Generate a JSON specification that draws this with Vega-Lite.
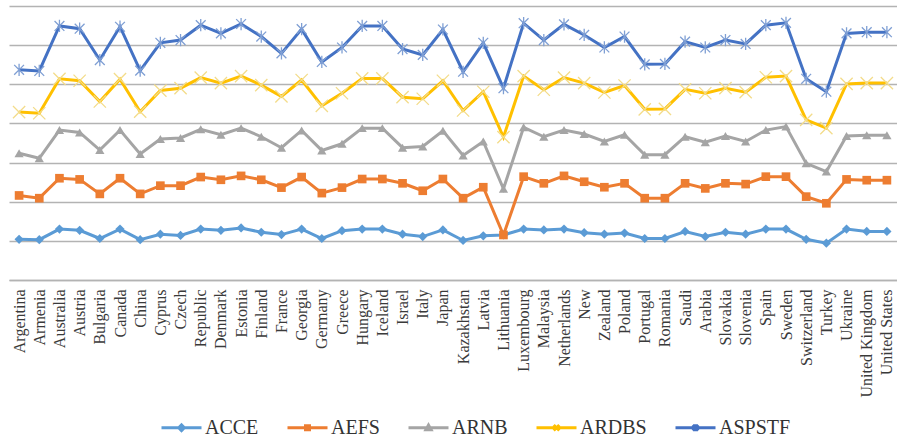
{
  "$schema": "https://vega.github.io/schema/vega-lite/v6.json",
  "width": 888,
  "height": 274,
  "autosize": {"type": "none"},
  "padding": {"left": 9, "top": 6, "right": 0, "bottom": 161},
  "background": "#ffffff",
  "config": {"view": {"stroke": null}},
  "data": {
    "values": [
      {"country": "Argentina", "series": "ACCE", "value": 1.04},
      {"country": "Armenia", "series": "ACCE", "value": 1.03},
      {"country": "Australia", "series": "ACCE", "value": 1.30},
      {"country": "Austria", "series": "ACCE", "value": 1.27},
      {"country": "Bulgaria", "series": "ACCE", "value": 1.06},
      {"country": "Canada", "series": "ACCE", "value": 1.30},
      {"country": "China", "series": "ACCE", "value": 1.03},
      {"country": "Cyprus", "series": "ACCE", "value": 1.17},
      {"country": "Czech", "series": "ACCE", "value": 1.14},
      {"country": "Republic", "series": "ACCE", "value": 1.30},
      {"country": "Denmark", "series": "ACCE", "value": 1.27},
      {"country": "Estonia", "series": "ACCE", "value": 1.33},
      {"country": "Finland", "series": "ACCE", "value": 1.22},
      {"country": "France", "series": "ACCE", "value": 1.16},
      {"country": "Georgia", "series": "ACCE", "value": 1.30},
      {"country": "Germany", "series": "ACCE", "value": 1.06},
      {"country": "Greece", "series": "ACCE", "value": 1.26},
      {"country": "Hungary", "series": "ACCE", "value": 1.30},
      {"country": "Iceland", "series": "ACCE", "value": 1.30},
      {"country": "Israel", "series": "ACCE", "value": 1.17},
      {"country": "Italy", "series": "ACCE", "value": 1.11},
      {"country": "Japan", "series": "ACCE", "value": 1.28},
      {"country": "Kazakhstan", "series": "ACCE", "value": 1.01},
      {"country": "Latvia", "series": "ACCE", "value": 1.13},
      {"country": "Lithuania", "series": "ACCE", "value": 1.15},
      {"country": "Luxembourg", "series": "ACCE", "value": 1.30},
      {"country": "Malaysia", "series": "ACCE", "value": 1.28},
      {"country": "Netherlands", "series": "ACCE", "value": 1.30},
      {"country": "New", "series": "ACCE", "value": 1.21},
      {"country": "Zealand", "series": "ACCE", "value": 1.17},
      {"country": "Poland", "series": "ACCE", "value": 1.20},
      {"country": "Portugal", "series": "ACCE", "value": 1.06},
      {"country": "Romania", "series": "ACCE", "value": 1.06},
      {"country": "Saudi", "series": "ACCE", "value": 1.24},
      {"country": "Arabia", "series": "ACCE", "value": 1.11},
      {"country": "Slovakia", "series": "ACCE", "value": 1.22},
      {"country": "Slovenia", "series": "ACCE", "value": 1.17},
      {"country": "Spain", "series": "ACCE", "value": 1.30},
      {"country": "Sweden", "series": "ACCE", "value": 1.30},
      {"country": "Switzerland", "series": "ACCE", "value": 1.04},
      {"country": "Turkey", "series": "ACCE", "value": 0.94},
      {"country": "Ukraine", "series": "ACCE", "value": 1.30},
      {"country": "United Kingdom", "series": "ACCE", "value": 1.24},
      {"country": "United States", "series": "ACCE", "value": 1.24},

      {"country": "Argentina", "series": "AEFS", "value": 2.16},
      {"country": "Armenia", "series": "AEFS", "value": 2.09},
      {"country": "Australia", "series": "AEFS", "value": 2.60},
      {"country": "Austria", "series": "AEFS", "value": 2.57},
      {"country": "Bulgaria", "series": "AEFS", "value": 2.20},
      {"country": "Canada", "series": "AEFS", "value": 2.60},
      {"country": "China", "series": "AEFS", "value": 2.20},
      {"country": "Cyprus", "series": "AEFS", "value": 2.41},
      {"country": "Czech", "series": "AEFS", "value": 2.41},
      {"country": "Republic", "series": "AEFS", "value": 2.63},
      {"country": "Denmark", "series": "AEFS", "value": 2.56},
      {"country": "Estonia", "series": "AEFS", "value": 2.66},
      {"country": "Finland", "series": "AEFS", "value": 2.56},
      {"country": "France", "series": "AEFS", "value": 2.36},
      {"country": "Georgia", "series": "AEFS", "value": 2.63},
      {"country": "Germany", "series": "AEFS", "value": 2.22},
      {"country": "Greece", "series": "AEFS", "value": 2.36},
      {"country": "Hungary", "series": "AEFS", "value": 2.58},
      {"country": "Iceland", "series": "AEFS", "value": 2.58},
      {"country": "Israel", "series": "AEFS", "value": 2.47},
      {"country": "Italy", "series": "AEFS", "value": 2.28},
      {"country": "Japan", "series": "AEFS", "value": 2.58},
      {"country": "Kazakhstan", "series": "AEFS", "value": 2.09},
      {"country": "Latvia", "series": "AEFS", "value": 2.37},
      {"country": "Lithuania", "series": "AEFS", "value": 1.15},
      {"country": "Luxembourg", "series": "AEFS", "value": 2.64},
      {"country": "Malaysia", "series": "AEFS", "value": 2.47},
      {"country": "Netherlands", "series": "AEFS", "value": 2.66},
      {"country": "New", "series": "AEFS", "value": 2.51},
      {"country": "Zealand", "series": "AEFS", "value": 2.37},
      {"country": "Poland", "series": "AEFS", "value": 2.47},
      {"country": "Portugal", "series": "AEFS", "value": 2.09},
      {"country": "Romania", "series": "AEFS", "value": 2.09},
      {"country": "Saudi", "series": "AEFS", "value": 2.47},
      {"country": "Arabia", "series": "AEFS", "value": 2.34},
      {"country": "Slovakia", "series": "AEFS", "value": 2.47},
      {"country": "Slovenia", "series": "AEFS", "value": 2.45},
      {"country": "Spain", "series": "AEFS", "value": 2.64},
      {"country": "Sweden", "series": "AEFS", "value": 2.64},
      {"country": "Switzerland", "series": "AEFS", "value": 2.13},
      {"country": "Turkey", "series": "AEFS", "value": 1.96},
      {"country": "Ukraine", "series": "AEFS", "value": 2.57},
      {"country": "United Kingdom", "series": "AEFS", "value": 2.55},
      {"country": "United States", "series": "AEFS", "value": 2.55},

      {"country": "Argentina", "series": "ARNB", "value": 3.24},
      {"country": "Armenia", "series": "ARNB", "value": 3.11},
      {"country": "Australia", "series": "ARNB", "value": 3.83},
      {"country": "Austria", "series": "ARNB", "value": 3.77},
      {"country": "Bulgaria", "series": "ARNB", "value": 3.32},
      {"country": "Canada", "series": "ARNB", "value": 3.83},
      {"country": "China", "series": "ARNB", "value": 3.22},
      {"country": "Cyprus", "series": "ARNB", "value": 3.60},
      {"country": "Czech", "series": "ARNB", "value": 3.63},
      {"country": "Republic", "series": "ARNB", "value": 3.85},
      {"country": "Denmark", "series": "ARNB", "value": 3.71},
      {"country": "Estonia", "series": "ARNB", "value": 3.88},
      {"country": "Finland", "series": "ARNB", "value": 3.66},
      {"country": "France", "series": "ARNB", "value": 3.38},
      {"country": "Georgia", "series": "ARNB", "value": 3.82},
      {"country": "Germany", "series": "ARNB", "value": 3.31},
      {"country": "Greece", "series": "ARNB", "value": 3.48},
      {"country": "Hungary", "series": "ARNB", "value": 3.88},
      {"country": "Iceland", "series": "ARNB", "value": 3.88},
      {"country": "Israel", "series": "ARNB", "value": 3.38},
      {"country": "Italy", "series": "ARNB", "value": 3.41},
      {"country": "Japan", "series": "ARNB", "value": 3.81},
      {"country": "Kazakhstan", "series": "ARNB", "value": 3.18},
      {"country": "Latvia", "series": "ARNB", "value": 3.54},
      {"country": "Lithuania", "series": "ARNB", "value": 2.33},
      {"country": "Luxembourg", "series": "ARNB", "value": 3.90},
      {"country": "Malaysia", "series": "ARNB", "value": 3.66},
      {"country": "Netherlands", "series": "ARNB", "value": 3.83},
      {"country": "New", "series": "ARNB", "value": 3.73},
      {"country": "Zealand", "series": "ARNB", "value": 3.54},
      {"country": "Poland", "series": "ARNB", "value": 3.71},
      {"country": "Portugal", "series": "ARNB", "value": 3.20},
      {"country": "Romania", "series": "ARNB", "value": 3.20},
      {"country": "Saudi", "series": "ARNB", "value": 3.66},
      {"country": "Arabia", "series": "ARNB", "value": 3.52},
      {"country": "Slovakia", "series": "ARNB", "value": 3.68},
      {"country": "Slovenia", "series": "ARNB", "value": 3.54},
      {"country": "Spain", "series": "ARNB", "value": 3.83},
      {"country": "Sweden", "series": "ARNB", "value": 3.92},
      {"country": "Switzerland", "series": "ARNB", "value": 2.98},
      {"country": "Turkey", "series": "ARNB", "value": 2.77},
      {"country": "Ukraine", "series": "ARNB", "value": 3.68},
      {"country": "United Kingdom", "series": "ARNB", "value": 3.70},
      {"country": "United States", "series": "ARNB", "value": 3.70},

      {"country": "Argentina", "series": "ARDBS", "value": 4.29},
      {"country": "Armenia", "series": "ARDBS", "value": 4.26},
      {"country": "Australia", "series": "ARDBS", "value": 5.14},
      {"country": "Austria", "series": "ARDBS", "value": 5.09},
      {"country": "Bulgaria", "series": "ARDBS", "value": 4.56},
      {"country": "Canada", "series": "ARDBS", "value": 5.13},
      {"country": "China", "series": "ARDBS", "value": 4.30},
      {"country": "Cyprus", "series": "ARDBS", "value": 4.84},
      {"country": "Czech", "series": "ARDBS", "value": 4.90},
      {"country": "Republic", "series": "ARDBS", "value": 5.17},
      {"country": "Denmark", "series": "ARDBS", "value": 5.03},
      {"country": "Estonia", "series": "ARDBS", "value": 5.21},
      {"country": "Finland", "series": "ARDBS", "value": 4.98},
      {"country": "France", "series": "ARDBS", "value": 4.69},
      {"country": "Georgia", "series": "ARDBS", "value": 5.11},
      {"country": "Germany", "series": "ARDBS", "value": 4.45},
      {"country": "Greece", "series": "ARDBS", "value": 4.77},
      {"country": "Hungary", "series": "ARDBS", "value": 5.15},
      {"country": "Iceland", "series": "ARDBS", "value": 5.15},
      {"country": "Israel", "series": "ARDBS", "value": 4.67},
      {"country": "Italy", "series": "ARDBS", "value": 4.63},
      {"country": "Japan", "series": "ARDBS", "value": 5.09},
      {"country": "Kazakhstan", "series": "ARDBS", "value": 4.33},
      {"country": "Latvia", "series": "ARDBS", "value": 4.81},
      {"country": "Lithuania", "series": "ARDBS", "value": 3.65},
      {"country": "Luxembourg", "series": "ARDBS", "value": 5.21},
      {"country": "Malaysia", "series": "ARDBS", "value": 4.86},
      {"country": "Netherlands", "series": "ARDBS", "value": 5.17},
      {"country": "New", "series": "ARDBS", "value": 5.03},
      {"country": "Zealand", "series": "ARDBS", "value": 4.79},
      {"country": "Poland", "series": "ARDBS", "value": 4.97},
      {"country": "Portugal", "series": "ARDBS", "value": 4.36},
      {"country": "Romania", "series": "ARDBS", "value": 4.37},
      {"country": "Saudi", "series": "ARDBS", "value": 4.87},
      {"country": "Arabia", "series": "ARDBS", "value": 4.77},
      {"country": "Slovakia", "series": "ARDBS", "value": 4.90},
      {"country": "Slovenia", "series": "ARDBS", "value": 4.80},
      {"country": "Spain", "series": "ARDBS", "value": 5.18},
      {"country": "Sweden", "series": "ARDBS", "value": 5.21},
      {"country": "Switzerland", "series": "ARDBS", "value": 4.09},
      {"country": "Turkey", "series": "ARDBS", "value": 3.88},
      {"country": "Ukraine", "series": "ARDBS", "value": 5.01},
      {"country": "United Kingdom", "series": "ARDBS", "value": 5.03},
      {"country": "United States", "series": "ARDBS", "value": 5.03},

      {"country": "Argentina", "series": "ASPSTF", "value": 5.37},
      {"country": "Armenia", "series": "ASPSTF", "value": 5.34},
      {"country": "Australia", "series": "ASPSTF", "value": 6.49},
      {"country": "Austria", "series": "ASPSTF", "value": 6.42},
      {"country": "Bulgaria", "series": "ASPSTF", "value": 5.62},
      {"country": "Canada", "series": "ASPSTF", "value": 6.47},
      {"country": "China", "series": "ASPSTF", "value": 5.35},
      {"country": "Cyprus", "series": "ASPSTF", "value": 6.06},
      {"country": "Czech", "series": "ASPSTF", "value": 6.13},
      {"country": "Republic", "series": "ASPSTF", "value": 6.51},
      {"country": "Denmark", "series": "ASPSTF", "value": 6.30},
      {"country": "Estonia", "series": "ASPSTF", "value": 6.54},
      {"country": "Finland", "series": "ASPSTF", "value": 6.22},
      {"country": "France", "series": "ASPSTF", "value": 5.79},
      {"country": "Georgia", "series": "ASPSTF", "value": 6.41},
      {"country": "Germany", "series": "ASPSTF", "value": 5.57},
      {"country": "Greece", "series": "ASPSTF", "value": 5.94},
      {"country": "Hungary", "series": "ASPSTF", "value": 6.49},
      {"country": "Iceland", "series": "ASPSTF", "value": 6.49},
      {"country": "Israel", "series": "ASPSTF", "value": 5.90},
      {"country": "Italy", "series": "ASPSTF", "value": 5.75},
      {"country": "Japan", "series": "ASPSTF", "value": 6.40},
      {"country": "Kazakhstan", "series": "ASPSTF", "value": 5.32},
      {"country": "Latvia", "series": "ASPSTF", "value": 6.06},
      {"country": "Lithuania", "series": "ASPSTF", "value": 4.90},
      {"country": "Luxembourg", "series": "ASPSTF", "value": 6.56},
      {"country": "Malaysia", "series": "ASPSTF", "value": 6.13},
      {"country": "Netherlands", "series": "ASPSTF", "value": 6.53},
      {"country": "New", "series": "ASPSTF", "value": 6.26},
      {"country": "Zealand", "series": "ASPSTF", "value": 5.94},
      {"country": "Poland", "series": "ASPSTF", "value": 6.22},
      {"country": "Portugal", "series": "ASPSTF", "value": 5.51},
      {"country": "Romania", "series": "ASPSTF", "value": 5.52},
      {"country": "Saudi", "series": "ASPSTF", "value": 6.09},
      {"country": "Arabia", "series": "ASPSTF", "value": 5.94},
      {"country": "Slovakia", "series": "ASPSTF", "value": 6.13},
      {"country": "Slovenia", "series": "ASPSTF", "value": 6.03},
      {"country": "Spain", "series": "ASPSTF", "value": 6.51},
      {"country": "Sweden", "series": "ASPSTF", "value": 6.57},
      {"country": "Switzerland", "series": "ASPSTF", "value": 5.14},
      {"country": "Turkey", "series": "ASPSTF", "value": 4.81},
      {"country": "Ukraine", "series": "ASPSTF", "value": 6.30},
      {"country": "United Kingdom", "series": "ASPSTF", "value": 6.33},
      {"country": "United States", "series": "ASPSTF", "value": 6.33}
    ]
  },
  "encoding": {
    "x": {
      "field": "country",
      "type": "nominal",
      "sort": null,
      "scale": {"type": "point", "padding": 0.5},
      "axis": {
        "title": null,
        "labelAngle": -90,
        "labelFont": "'Liberation Serif', 'Times New Roman', serif",
        "labelFontSize": 16,
        "labelColor": "#3a3a3a",
        "labelPadding": 9,
        "labelOverlap": false,
        "labelLimit": 300,
        "ticks": false,
        "grid": false,
        "domainColor": "#b3b3b3",
        "domainWidth": 1.3
      }
    },
    "y": {
      "field": "value",
      "type": "quantitative",
      "scale": {"domain": [0, 7], "nice": false},
      "axis": {
        "title": null,
        "labels": false,
        "ticks": false,
        "domain": false,
        "grid": true,
        "values": [0, 1, 2, 3, 4, 5, 6, 7],
        "gridColor": "#b3b3b3",
        "gridWidth": 1.3
      }
    }
  },
  "layer": [
    {
      "mark": {"type": "line", "strokeWidth": 3, "clip": false},
      "encoding": {
        "color": {
          "field": "series",
          "type": "nominal",
          "scale": {
            "domain": ["ACCE", "AEFS", "ARNB", "ARDBS", "ASPSTF"],
            "range": ["#5b9bd5", "#ed7d31", "#a5a5a5", "#ffc000", "#4472c4"]
          },
          "legend": {
            "title": null,
            "orient": "none",
            "legendX": 151,
            "legendY": 400,
            "direction": "horizontal",
            "padding": 0,
            "symbolSize": 1600,
            "symbolStrokeWidth": 3,
            "labelFont": "'Liberation Serif', 'Times New Roman', serif",
            "labelFontSize": 20,
            "labelColor": "#333333",
            "labelOffset": 2,
            "columnPadding": 22,
            "encode": {
              "symbols": {
                "update": {
                  "shape": {
                    "signal": "datum.value === 'ACCE' ? 'M-1,0L1,0M-0.14,0L0,-0.14L0.14,0L0,0.14Z' : datum.value === 'AEFS' ? 'M-1,0L1,0M-0.1,-0.1L0.1,-0.1L0.1,0.1L-0.1,0.1Z' : datum.value === 'ARNB' ? 'M-1,0L1,0M-0.13,0.1L0,-0.13L0.13,0.1Z' : datum.value === 'ARDBS' ? 'M-1,0L1,0M-0.14,-0.14L0.14,0.14M-0.14,0.14L0.14,-0.14' : 'M-1,0L1,0M-0.14,-0.14L0.14,0.14M-0.14,0.14L0.14,-0.14M0,-0.18L0,0.18'"
                  },
                  "fill": {"scale": "color", "field": "value"},
                  "stroke": {"scale": "color", "field": "value"},
                  "strokeWidth": {"value": 3}
                }
              }
            }
          }
        }
      }
    },
    {
      "transform": [{"filter": {"field": "series", "equal": "ACCE"}}],
      "mark": {"type": "point", "shape": "diamond", "filled": true, "opacity": 1, "size": 85, "color": "#5b9bd5", "clip": false}
    },
    {
      "transform": [{"filter": {"field": "series", "equal": "AEFS"}}],
      "mark": {"type": "point", "shape": "square", "filled": true, "opacity": 1, "size": 75, "color": "#ed7d31", "clip": false}
    },
    {
      "transform": [{"filter": {"field": "series", "equal": "ARNB"}}],
      "mark": {"type": "point", "shape": "triangle-up", "filled": true, "opacity": 1, "size": 85, "color": "#a5a5a5", "clip": false}
    },
    {
      "transform": [{"filter": {"field": "series", "equal": "ARDBS"}}],
      "mark": {"type": "point", "shape": "M-1,-1L1,1M-1,1L1,-1", "filled": false, "opacity": 1, "size": 150, "strokeWidth": 1.3, "color": "#f3dc8a", "clip": false}
    },
    {
      "transform": [{"filter": {"field": "series", "equal": "ASPSTF"}}],
      "mark": {"type": "point", "shape": "M-0.8,-0.8L0.8,0.8M-0.8,0.8L0.8,-0.8M0,-1L0,1", "filled": false, "opacity": 1, "size": 150, "strokeWidth": 1.3, "color": "#7f9fd4", "clip": false}
    }
  ]
}
